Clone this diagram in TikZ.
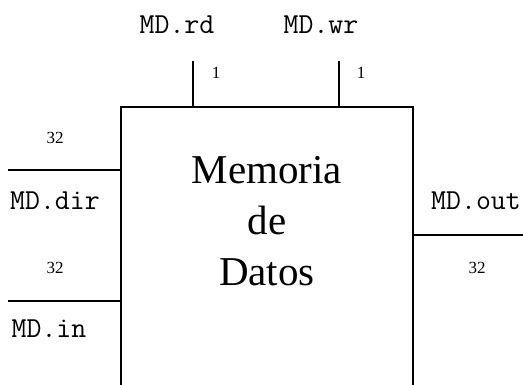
\documentclass[tikz,border=0pt]{standalone}
\usepackage{fontspec}
\setmainfont{Liberation Serif}
\begin{document}
\begin{tikzpicture}[x=1pt,y=-1pt,
  wire/.style={line width=1.8pt},
  sig/.style={font=\ttfamily\fontsize{29}{32}\selectfont, inner sep=0pt},
  width/.style={font=\fontsize{17}{19}\selectfont, inner sep=0pt}]
  \useasboundingbox (0,0) rectangle (523,385);
  % block outline (open at the bottom edge)
  \coordinate (bl) at (121,385);
  \coordinate (tl) at (121,107);
  \coordinate (tr) at (413,107);
  \coordinate (br) at (413,385);
  \draw[wire] (bl) -- (tl) -- (tr) -- (br);
  \node[font=\fontsize{41}{51}\selectfont, align=center, inner sep=0pt] (mem) at (267,221) {Memoria\\de\\Datos};
  % control inputs
  \coordinate (rdtop) at (193,61);
  \coordinate (rdbot) at (193,107);
  \coordinate (wrtop) at (339,61);
  \coordinate (wrbot) at (339,107);
  \draw[wire] (rdtop) -- (rdbot);
  \draw[wire] (wrtop) -- (wrbot);
  \node[sig] (rd) at (177,25) {MD.rd};
  \node[sig] (wr) at (321,25) {MD.wr};
  \node[width] (rdw) at (216,73) {1};
  \node[width] (wrw) at (361,73) {1};
  % data inputs
  \coordinate (dirin) at (8,170);
  \coordinate (dirend) at (121,170);
  \coordinate (inin) at (8,301);
  \coordinate (inend) at (121,301);
  \draw[wire] (dirin) -- (dirend);
  \draw[wire] (inin) -- (inend);
  \node[width] (dirw) at (55,138) {32};
  \node[width] (inw) at (55,268) {32};
  \node[sig] (dir) at (55,201) {MD.dir};
  \node[sig] (in) at (49,329) {MD.in};
  % data output
  \coordinate (outst) at (413,235);
  \coordinate (outend) at (523,235);
  \draw[wire] (outst) -- (outend);
  \node[sig] (out) at (476,201) {MD.out};
  \node[width] (outw) at (477,268) {32};
\end{tikzpicture}
\end{document}
